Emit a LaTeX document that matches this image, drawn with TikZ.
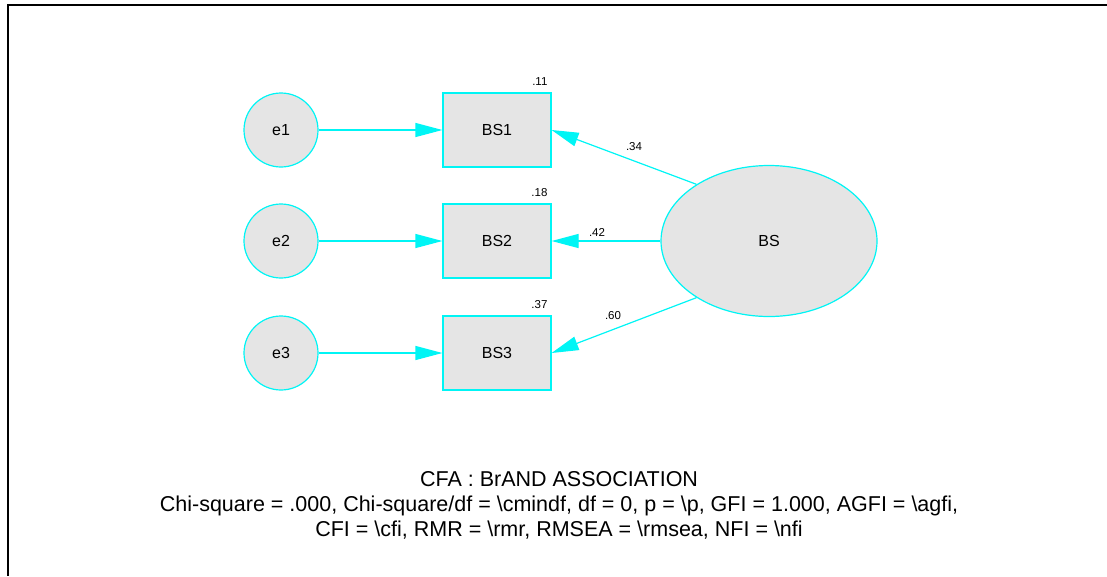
\documentclass[tikz,border=0pt]{standalone}
\usepackage{fontspec}
\setmainfont{Liberation Sans}
\usetikzlibrary{arrows.meta,shapes.geometric}
\definecolor{semcyan}{RGB}{0,245,245}
\definecolor{semgray}{RGB}{229,229,229}
\begin{document}
\begin{tikzpicture}[x=1pt, y=-1pt,
	obs/.style={draw=semcyan, fill=semgray, line width=1.2pt, minimum width=108pt, minimum height=74pt, inner sep=0pt, font=\fontsize{16}{19}\selectfont},
	err/.style={circle, draw=semcyan, fill=semgray, line width=1.2pt, minimum size=74pt, inner sep=0pt, font=\fontsize{16}{19}\selectfont},
	lat/.style={ellipse, draw=semcyan, fill=semgray, line width=1.2pt, minimum width=216pt, minimum height=151pt, inner sep=0pt, font=\fontsize{16}{19}\selectfont},
	reg/.style={draw=semcyan, line width=1.2pt, -{Triangle[length=27pt,width=14pt]}},
	est/.style={font=\fontsize{11.5}{13}\selectfont, inner sep=0pt}]
	%枠
	\useasboundingbox (0, 0) rectangle (1107, 576);
	\draw[line width=2pt] (1107, 5)--(8, 5)--(8, 576);
	%誤差
	\node[err] (e1) at (281, 130) {e1};
	\node[err] (e2) at (281, 241) {e2};
	\node[err] (e3) at (281, 353) {e3};
	%観測変数
	\node[obs] (BS1) at (497, 130) {BS1};
	\node[obs] (BS2) at (497, 241) {BS2};
	\node[obs] (BS3) at (497, 353) {BS3};
	%潜在変数
	\node[lat] (BS) at (769, 241) {BS};
	%決定係数
	\path (BS1.north east)++(-4, -7) node[est, anchor=south east] (r1) {.11};
	\path (BS2.north east)++(-4, -7) node[est, anchor=south east] (r2) {.18};
	\path (BS3.north east)++(-4, -7) node[est, anchor=south east] (r3) {.37};
	%パス
	\draw[reg] (e1)--(BS1);
	\draw[reg] (e2)--(BS2);
	\draw[reg] (e3)--(BS3);
	\draw[reg] (BS.142)--(BS1.east);
	\draw[reg] (BS.west)--(BS2.east);
	\draw[reg] (BS.218)--(BS3.east);
	%係数
	\node[est] (l1) at (634, 147) {.34};
	\node[est] (l2) at (597, 232) {.42};
	\node[est] (l3) at (613, 316) {.60};
	%適合度
	\node[align=center, inner sep=0pt, font=\fontsize{21.5}{25}\selectfont] (fit) at (559, 505)
		{CFA : BrAND ASSOCIATION\\
		Chi-square = .000, Chi-square/df = \textbackslash cmindf, df = 0, p = \textbackslash p, GFI = 1.000, AGFI = \textbackslash agfi,\\
		CFI = \textbackslash cfi, RMR = \textbackslash rmr, RMSEA = \textbackslash rmsea, NFI = \textbackslash nfi};
\end{tikzpicture}
\end{document}
